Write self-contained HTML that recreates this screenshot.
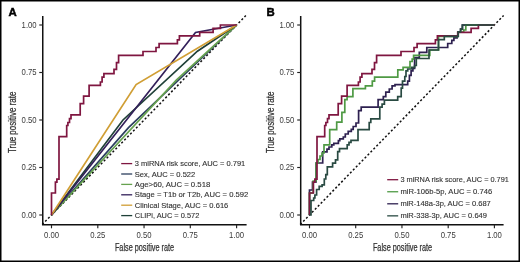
<!DOCTYPE html>
<html><head><meta charset="utf-8"><style>
html,body{margin:0;padding:0;background:#fff;width:520px;height:262px;overflow:hidden}
svg{display:block;will-change:transform}
text{font-family:"Liberation Sans",sans-serif}
.tk{font-size:8.3px;fill:#3a3a3a}
.lg{font-size:7.4px;fill:#333333;stroke:#333333;stroke-width:0.12px}
.ax{font-size:10px;fill:#333333;stroke:#333333;stroke-width:0.25px}
.pl{font-size:11.4px;font-weight:bold;fill:#000;stroke:#000;stroke-width:0.45px}
</style></head><body>
<svg width="520" height="262" viewBox="0 0 520 262">
<rect x="0" y="0" width="520" height="262" fill="#fff"/>
<line x1="42.24" y1="224.5" x2="245.85" y2="15.5" stroke="#111" stroke-width="1.5" stroke-dasharray="2.1 2.1"/>
<path d="M51.5,215 L128.5,127.6 L236.6,25" stroke="#2c3f5e" stroke-width="1.7" fill="none" stroke-linejoin="miter" stroke-linecap="butt"/>
<path d="M51.5,215 L176.3,80.1 L236.6,25" stroke="#66a24f" stroke-width="1.7" fill="none" stroke-linejoin="miter" stroke-linecap="butt"/>
<path d="M51.5,215 L123,120 L197.4,51.2 L236.6,25" stroke="#1f4038" stroke-width="1.7" fill="none" stroke-linejoin="miter" stroke-linecap="butt"/>
<path d="M51.5,215 L195.5,32.5 L236.6,25" stroke="#33205a" stroke-width="1.7" fill="none" stroke-linejoin="miter" stroke-linecap="butt"/>
<path d="M51.5,215 L136.1,84.6 L236.6,25" stroke="#d09e34" stroke-width="1.7" fill="none" stroke-linejoin="miter" stroke-linecap="butt"/>
<path d="M51.5,215 V193 H55.4 V182.1 H56.9 V179.1 H59 V136.7 H66.7 V125.5 H67.9 V122.5 H69.5 V118.7 H71 V114.8 H80.2 V103.6 H83.6 V96.1 H89.1 V85.4 H100.4 V82 H102.1 V77.2 H103.9 V73.7 H114 V69.4 H116.5 V62.7 H118.6 V55.4 H143 V51.5 H156 V47.5 H159.1 V43.7 H177.4 V39.8 H179.4 V35.8 H199.7 V32.4 H213.1 V28.4 H220.4 V25 H236.6" stroke="#7f1640" stroke-width="1.7" fill="none" stroke-linejoin="miter" stroke-linecap="butt"/>
<path d="M42.75,16 V224.8 H246.6" stroke="#111" stroke-width="1.5" fill="none"/>
<line x1="39.25" y1="25" x2="42.75" y2="25" stroke="#222" stroke-width="1.15"/>
<line x1="39.25" y1="72.5" x2="42.75" y2="72.5" stroke="#222" stroke-width="1.15"/>
<line x1="39.25" y1="120" x2="42.75" y2="120" stroke="#222" stroke-width="1.15"/>
<line x1="39.25" y1="167.5" x2="42.75" y2="167.5" stroke="#222" stroke-width="1.15"/>
<line x1="39.25" y1="215" x2="42.75" y2="215" stroke="#222" stroke-width="1.15"/>
<line x1="51.5" y1="224.8" x2="51.5" y2="228.3" stroke="#222" stroke-width="1.15"/>
<line x1="97.8" y1="224.8" x2="97.8" y2="228.3" stroke="#222" stroke-width="1.15"/>
<line x1="144.05" y1="224.8" x2="144.05" y2="228.3" stroke="#222" stroke-width="1.15"/>
<line x1="190.3" y1="224.8" x2="190.3" y2="228.3" stroke="#222" stroke-width="1.15"/>
<line x1="236.6" y1="224.8" x2="236.6" y2="228.3" stroke="#222" stroke-width="1.15"/>
<text x="36.6" y="27.85" text-anchor="end" class="tk" textLength="15" lengthAdjust="spacingAndGlyphs">1.00</text>
<text x="36.6" y="75.35" text-anchor="end" class="tk" textLength="15" lengthAdjust="spacingAndGlyphs">0.75</text>
<text x="36.6" y="122.85" text-anchor="end" class="tk" textLength="15" lengthAdjust="spacingAndGlyphs">0.50</text>
<text x="36.6" y="170.35" text-anchor="end" class="tk" textLength="15" lengthAdjust="spacingAndGlyphs">0.25</text>
<text x="36.6" y="217.85" text-anchor="end" class="tk" textLength="15" lengthAdjust="spacingAndGlyphs">0.00</text>
<text x="51.5" y="238.3" text-anchor="middle" class="tk" textLength="15" lengthAdjust="spacingAndGlyphs">0.00</text>
<text x="97.8" y="238.3" text-anchor="middle" class="tk" textLength="15" lengthAdjust="spacingAndGlyphs">0.25</text>
<text x="144.05" y="238.3" text-anchor="middle" class="tk" textLength="15" lengthAdjust="spacingAndGlyphs">0.50</text>
<text x="190.3" y="238.3" text-anchor="middle" class="tk" textLength="15" lengthAdjust="spacingAndGlyphs">0.75</text>
<text x="236.6" y="238.3" text-anchor="middle" class="tk" textLength="15" lengthAdjust="spacingAndGlyphs">1.00</text>
<text x="8.5" y="15.5" class="pl">A</text>
<text transform="translate(16.3,122.3) rotate(-90)" text-anchor="middle" class="ax" textLength="61.5" lengthAdjust="spacingAndGlyphs">True positive rate</text>
<text x="144.5" y="251.3" text-anchor="middle" class="ax" textLength="59.2" lengthAdjust="spacingAndGlyphs">False positive rate</text>
<line x1="121.2" y1="163.6" x2="132.2" y2="163.6" stroke="#7f1640" stroke-width="1.3"/>
<text x="134.8" y="166.1" class="lg" textLength="110.5" lengthAdjust="spacingAndGlyphs">3 miRNA risk score, AUC = 0.791</text>
<line x1="121.2" y1="174.0" x2="132.2" y2="174.0" stroke="#2c3f5e" stroke-width="1.3"/>
<text x="134.8" y="176.5" class="lg" textLength="60.5" lengthAdjust="spacingAndGlyphs">Sex, AUC = 0.522</text>
<line x1="121.2" y1="184.4" x2="132.2" y2="184.4" stroke="#66a24f" stroke-width="1.3"/>
<text x="134.8" y="186.9" class="lg" textLength="75.5" lengthAdjust="spacingAndGlyphs">Age&gt;60, AUC = 0.518</text>
<line x1="121.2" y1="194.8" x2="132.2" y2="194.8" stroke="#33205a" stroke-width="1.3"/>
<text x="134.8" y="197.3" class="lg" textLength="113.5" lengthAdjust="spacingAndGlyphs">Stage = T1b or T2b, AUC = 0.592</text>
<line x1="121.2" y1="205.2" x2="132.2" y2="205.2" stroke="#d09e34" stroke-width="1.3"/>
<text x="134.8" y="207.7" class="lg" textLength="93.5" lengthAdjust="spacingAndGlyphs">Clinical Stage, AUC = 0.616</text>
<line x1="121.2" y1="215.6" x2="132.2" y2="215.6" stroke="#1f4038" stroke-width="1.3"/>
<text x="134.8" y="218.1" class="lg" textLength="64.5" lengthAdjust="spacingAndGlyphs">CLIPi, AUC = 0.572</text>
<line x1="300.25" y1="224.5" x2="503.64" y2="15.5" stroke="#111" stroke-width="1.5" stroke-dasharray="2.1 2.1"/>
<path d="M309.5,215 V190 H312.5 V182 H316.1 V163 H322.7 V151.8 H327 V149.1 H329 V147 H331.8 V144.8 H333.8 V143.3 H338.4 V140.7 H339.8 V138.8 H343.3 V137 H345.3 V134 H348.2 V131.4 H351.3 V129.4 H353.2 V126.5 H356 V123 H358.6 V110.7 H361.2 V107.1 H378.1 V99.6 H383.3 V96.7 H385.8 V92.1 H389.3 V89 H392.1 V85.8 H395 V84.6 H407.7 V81.1 H409.4 V75.4 H411.1 V70.8 H412.9 V68.5 H414.6 V57.7 H419.3 V52.3 H426.8 V47.5 H447.7 V43.5 H451.8 V40.4 H453.9 V37.8 H457.1 V36.2 H458.2 V31.8 H460.6 V29.2 H462.4 V25 H494.4" stroke="#2e2150" stroke-width="1.7" fill="none" stroke-linejoin="miter" stroke-linecap="butt"/>
<path d="M309.5,215 V193 H313.2 V181 H316.1 V163 H318 V159.5 H320 V156 H322 V153 H324 V144.8 H329.7 V129.6 H336.7 V122.1 H341.9 V112.3 H344.8 V99.6 H347.1 V96.7 H352.9 V88.6 H365.4 V85.8 H372.3 V81.1 H374.6 V77.1 H397.8 V69.9 H403.1 V67.3 H410 V61.5 H412.2 V59.1 H413.6 V55.3 H429.8 V50 H438.5 V36.3 H458.2 V32 H463.7 V30 H465.8 V25 H494.4" stroke="#4f9a44" stroke-width="1.7" fill="none" stroke-linejoin="miter" stroke-linecap="butt"/>
<path d="M309.5,215 V193 H313.4 V182.1 H314.9 V179.1 H317.0 V136.7 H324.7 V125.5 H325.9 V122.5 H327.5 V118.7 H329.0 V114.8 H338.2 V103.6 H341.6 V96.1 H347.1 V85.4 H358.4 V82 H360.1 V77.2 H361.9 V73.7 H372.0 V69.4 H374.5 V62.7 H376.6 V55.4 H401.0 V51.5 H414.0 V47.5 H417.1 V43.7 H435.4 V39.8 H437.4 V35.8 H457.7 V32.4 H471.1 V28.4 H478.4 V25 H494.6" stroke="#7f1640" stroke-width="1.7" fill="none" stroke-linejoin="miter" stroke-linecap="butt"/>
<path d="M309.5,215 H311 V200.5 H313.7 V198 H314.9 V195 H316.6 V189.5 H319.2 V186.3 H322.1 V184.8 H324.3 V179 H325.8 V174.7 H327.3 V166.8 H332.6 V163.2 H335.5 V159.8 H337.7 V151.7 H339.5 V148.6 H347.2 V144.8 H349 V142.3 H351 V140.4 H358 V129.7 H369.2 V122.5 H370.8 V118.8 H379.8 V107.1 H382.1 V104.2 H384.4 V100.2 H397.7 V96.7 H401.2 V88.1 H402.5 V81.1 H404.8 V76.5 H406 V70.8 H407.7 V69 H411.7 V67.3 H414.6 V65.5 H416.3 V58.5 H429 V50 H438.5 V39.7 H444.3 V36.3 H458.2 V31.8 H460.6 V29.2 H462.4 V25 H494.4" stroke="#294a42" stroke-width="1.7" fill="none" stroke-linejoin="miter" stroke-linecap="butt"/>
<path d="M300.7,16 V224.8 H503.6" stroke="#111" stroke-width="1.5" fill="none"/>
<line x1="297.2" y1="25" x2="300.7" y2="25" stroke="#222" stroke-width="1.15"/>
<line x1="297.2" y1="72.5" x2="300.7" y2="72.5" stroke="#222" stroke-width="1.15"/>
<line x1="297.2" y1="120" x2="300.7" y2="120" stroke="#222" stroke-width="1.15"/>
<line x1="297.2" y1="167.5" x2="300.7" y2="167.5" stroke="#222" stroke-width="1.15"/>
<line x1="297.2" y1="215" x2="300.7" y2="215" stroke="#222" stroke-width="1.15"/>
<line x1="309.5" y1="224.8" x2="309.5" y2="228.3" stroke="#222" stroke-width="1.15"/>
<line x1="355.7" y1="224.8" x2="355.7" y2="228.3" stroke="#222" stroke-width="1.15"/>
<line x1="401.95" y1="224.8" x2="401.95" y2="228.3" stroke="#222" stroke-width="1.15"/>
<line x1="448.2" y1="224.8" x2="448.2" y2="228.3" stroke="#222" stroke-width="1.15"/>
<line x1="494.4" y1="224.8" x2="494.4" y2="228.3" stroke="#222" stroke-width="1.15"/>
<text x="294.4" y="27.85" text-anchor="end" class="tk" textLength="15" lengthAdjust="spacingAndGlyphs">1.00</text>
<text x="294.4" y="75.35" text-anchor="end" class="tk" textLength="15" lengthAdjust="spacingAndGlyphs">0.75</text>
<text x="294.4" y="122.85" text-anchor="end" class="tk" textLength="15" lengthAdjust="spacingAndGlyphs">0.50</text>
<text x="294.4" y="170.35" text-anchor="end" class="tk" textLength="15" lengthAdjust="spacingAndGlyphs">0.25</text>
<text x="294.4" y="217.85" text-anchor="end" class="tk" textLength="15" lengthAdjust="spacingAndGlyphs">0.00</text>
<text x="309.5" y="238.3" text-anchor="middle" class="tk" textLength="15" lengthAdjust="spacingAndGlyphs">0.00</text>
<text x="355.7" y="238.3" text-anchor="middle" class="tk" textLength="15" lengthAdjust="spacingAndGlyphs">0.25</text>
<text x="401.95" y="238.3" text-anchor="middle" class="tk" textLength="15" lengthAdjust="spacingAndGlyphs">0.50</text>
<text x="448.2" y="238.3" text-anchor="middle" class="tk" textLength="15" lengthAdjust="spacingAndGlyphs">0.75</text>
<text x="494.4" y="238.3" text-anchor="middle" class="tk" textLength="15" lengthAdjust="spacingAndGlyphs">1.00</text>
<text x="266.6" y="15.5" class="pl">B</text>
<text transform="translate(274.3,122.3) rotate(-90)" text-anchor="middle" class="ax" textLength="61.5" lengthAdjust="spacingAndGlyphs">True positive rate</text>
<text x="402.5" y="251.3" text-anchor="middle" class="ax" textLength="59.2" lengthAdjust="spacingAndGlyphs">False positive rate</text>
<line x1="387.2" y1="179.7" x2="398.2" y2="179.7" stroke="#7f1640" stroke-width="1.3"/>
<text x="400.4" y="182.2" class="lg" textLength="108.5" lengthAdjust="spacingAndGlyphs">3 miRNA risk score, AUC = 0.791</text>
<line x1="387.2" y1="191.75" x2="398.2" y2="191.75" stroke="#4f9a44" stroke-width="1.3"/>
<text x="400.4" y="194.25" class="lg" textLength="91.8" lengthAdjust="spacingAndGlyphs">miR-106b-5p, AUC = 0.746</text>
<line x1="387.2" y1="203.79999999999998" x2="398.2" y2="203.79999999999998" stroke="#2e2150" stroke-width="1.3"/>
<text x="400.4" y="206.29999999999998" class="lg" textLength="90.4" lengthAdjust="spacingAndGlyphs">miR-148a-3p, AUC = 0.687</text>
<line x1="387.2" y1="215.85" x2="398.2" y2="215.85" stroke="#294a42" stroke-width="1.3"/>
<text x="400.4" y="218.35" class="lg" textLength="86.6" lengthAdjust="spacingAndGlyphs">miR-338-3p, AUC = 0.649</text>
<rect x="0" y="0" width="520" height="262" fill="none" stroke="#000" stroke-width="3"/>
</svg>
</body></html>
